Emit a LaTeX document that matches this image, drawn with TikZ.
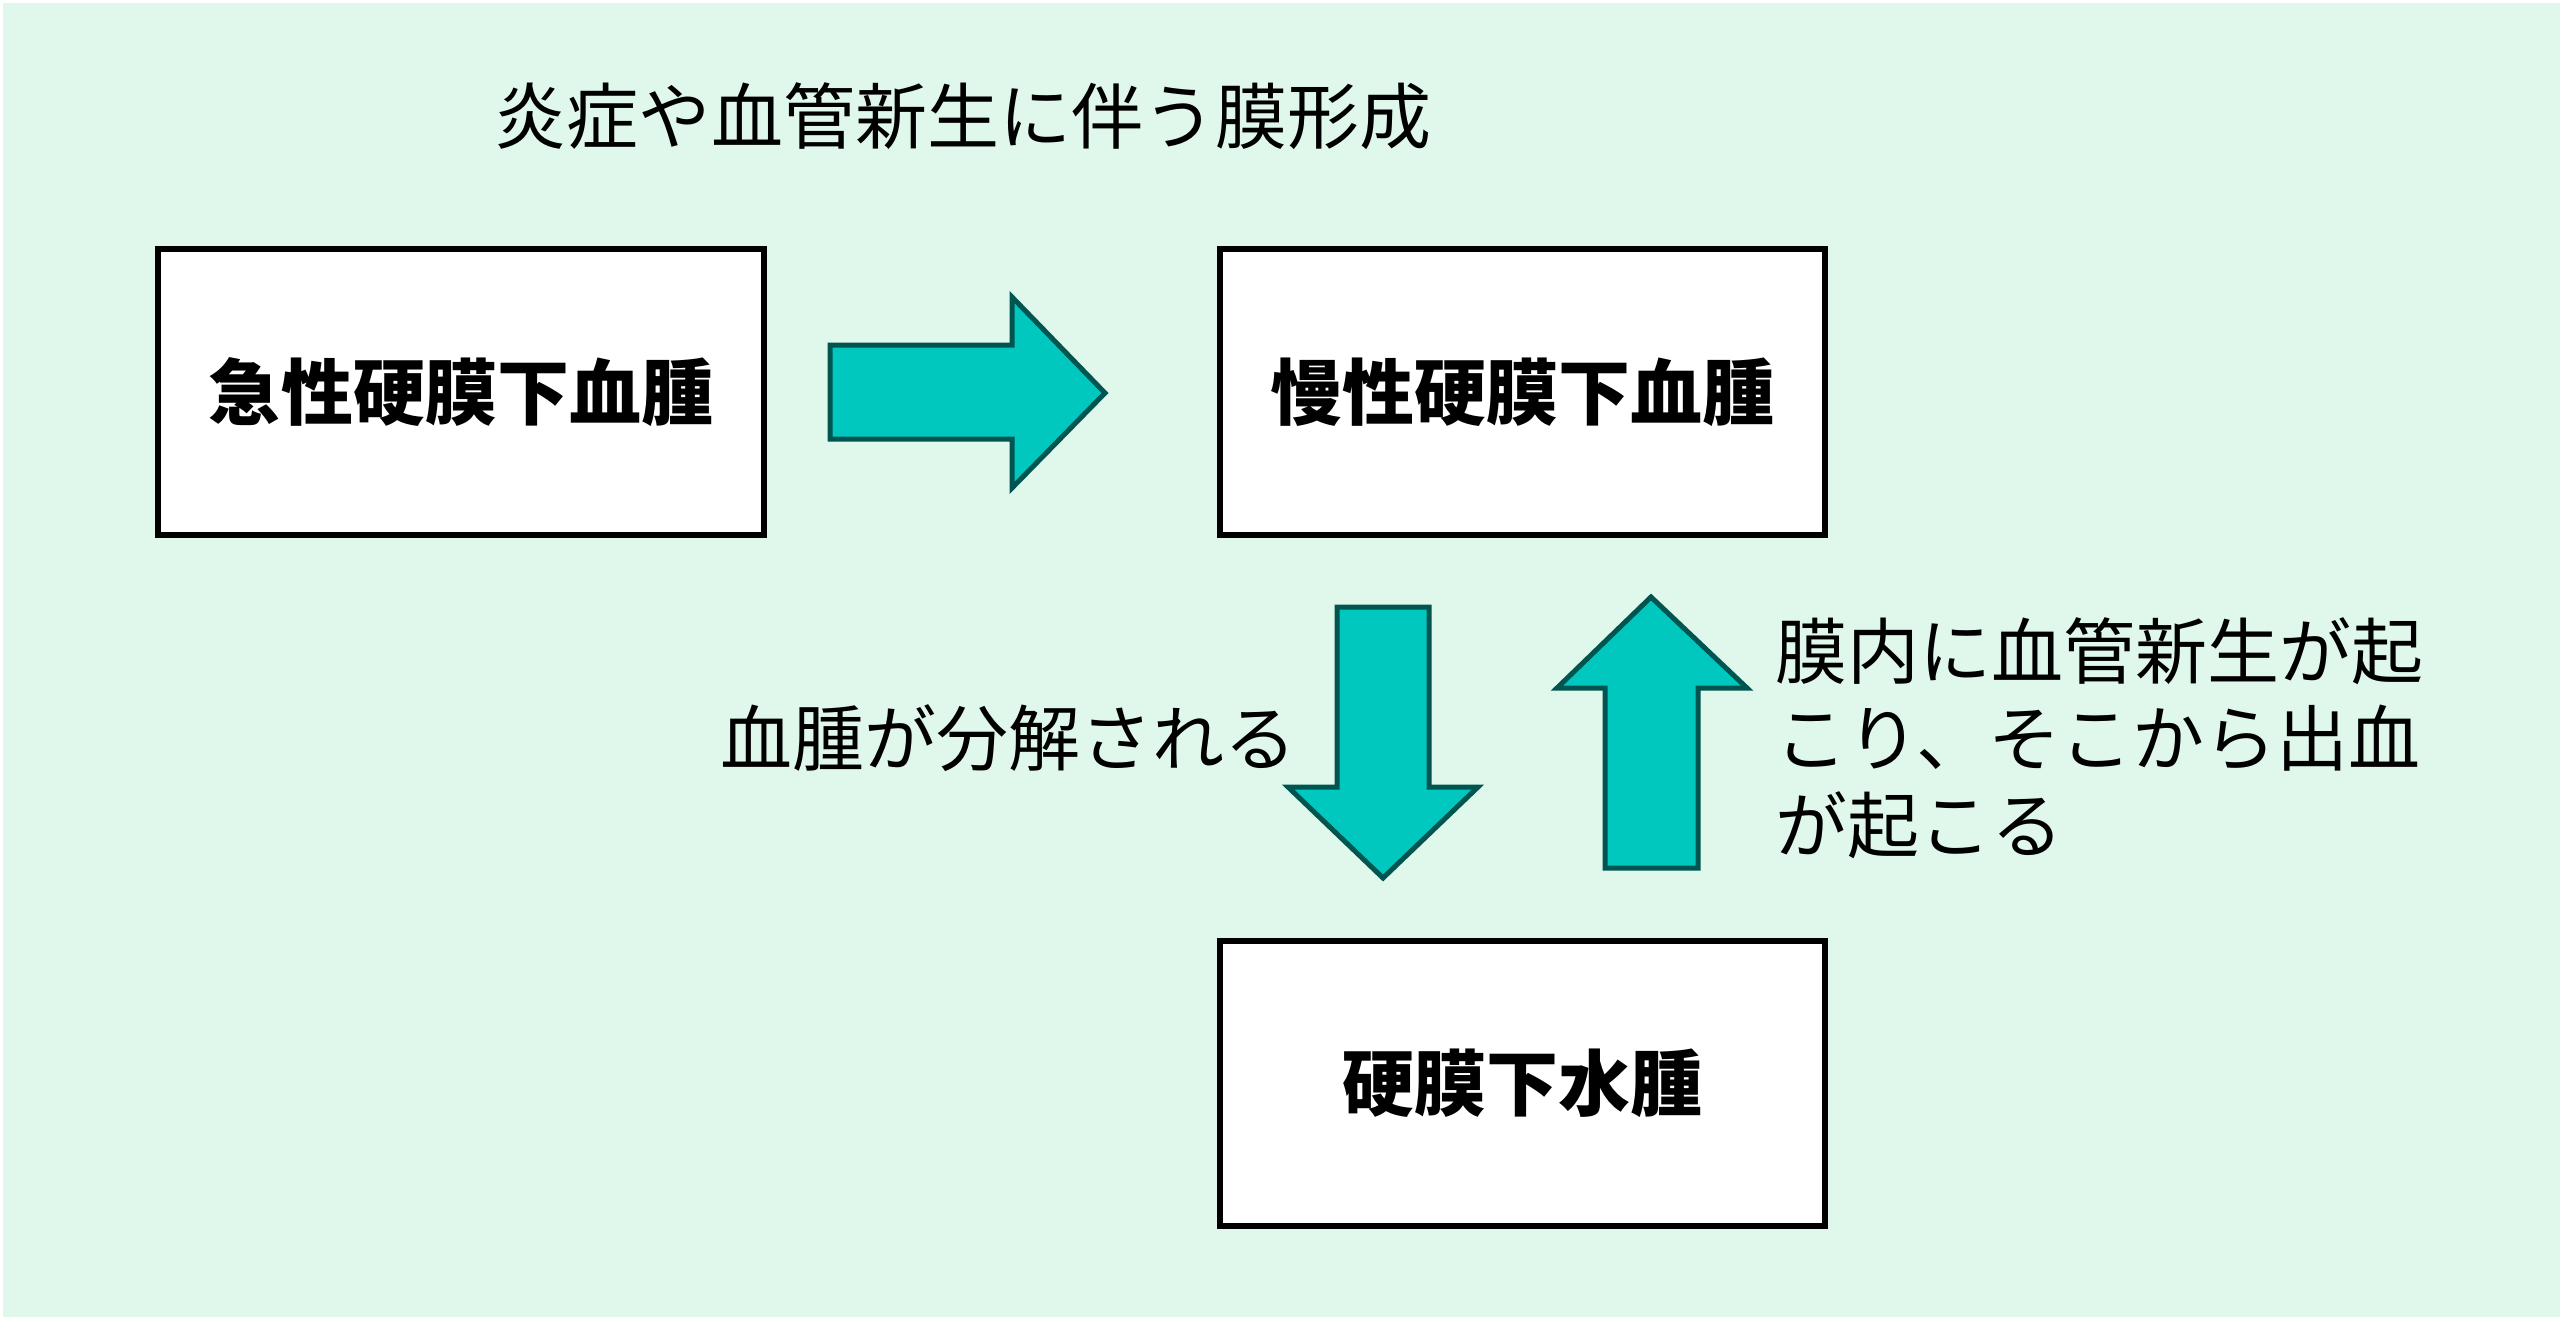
\documentclass[tikz,border=0pt]{standalone}
\usepackage{fontspec}
\setmainfont{Noto Sans CJK JP}
\usetikzlibrary{positioning}
\definecolor{bgmint}{HTML}{E0F8EC}
\definecolor{arrfill}{HTML}{00C8BE}
\definecolor{arrline}{HTML}{005550}
\tikzset{
  stage/.style={draw=black,line width=1.5bp,fill=white,minimum width=151.25bp,minimum height=71.25bp,inner sep=0pt,font=\fontsize{18bp}{21.75bp}\selectfont\bfseries},
  note/.style={inner sep=0pt,font=\fontsize{18bp}{21.75bp}\selectfont},
  blockarrow/.style={fill=arrfill,draw=arrline,line width=1.25bp,line join=miter}
}
\begin{document}
\begin{tikzpicture}[x=0.25bp,y=-0.25bp]
    \useasboundingbox (0,0) rectangle (2560,1317);
    \fill[white] (0,0) rectangle (2560,1317);
    \fill[bgmint] (3,3) rectangle (2560,1317);
    % boxes
    \node[stage] (acute) at (461,392) {急性硬膜下血腫};
    \node[stage] (chronic) at (1522,392) {慢性硬膜下血腫};
    \node[stage] (hygroma) at (1522,1083) {硬膜下水腫};
    % block arrows
    \draw[blockarrow] (830,345) -- (1012,345) -- (1012,297) -- (1105,393) -- (1012,488) -- (1012,439) -- (830,439) -- cycle;
    \draw[blockarrow] (1337,607) -- (1429,607) -- (1429,787) -- (1478,787) -- (1383,878) -- (1288,787) -- (1337,787) -- cycle;
    \draw[blockarrow] (1605,868) -- (1698,868) -- (1698,688) -- (1747,688) -- (1651,597) -- (1557,688) -- (1605,688) -- cycle;
    % labels
    \node[note] (membrane) at (963,116) {炎症や血管新生に伴う膜形成};
    \node[note] (resolve) at (1008,738) {血腫が分解される};
    \node[note,anchor=west,align=left] (bleed) at (1775,738) {膜内に血管新生が起\\こり、そこから出血\\が起こる};
\end{tikzpicture}
\end{document}
